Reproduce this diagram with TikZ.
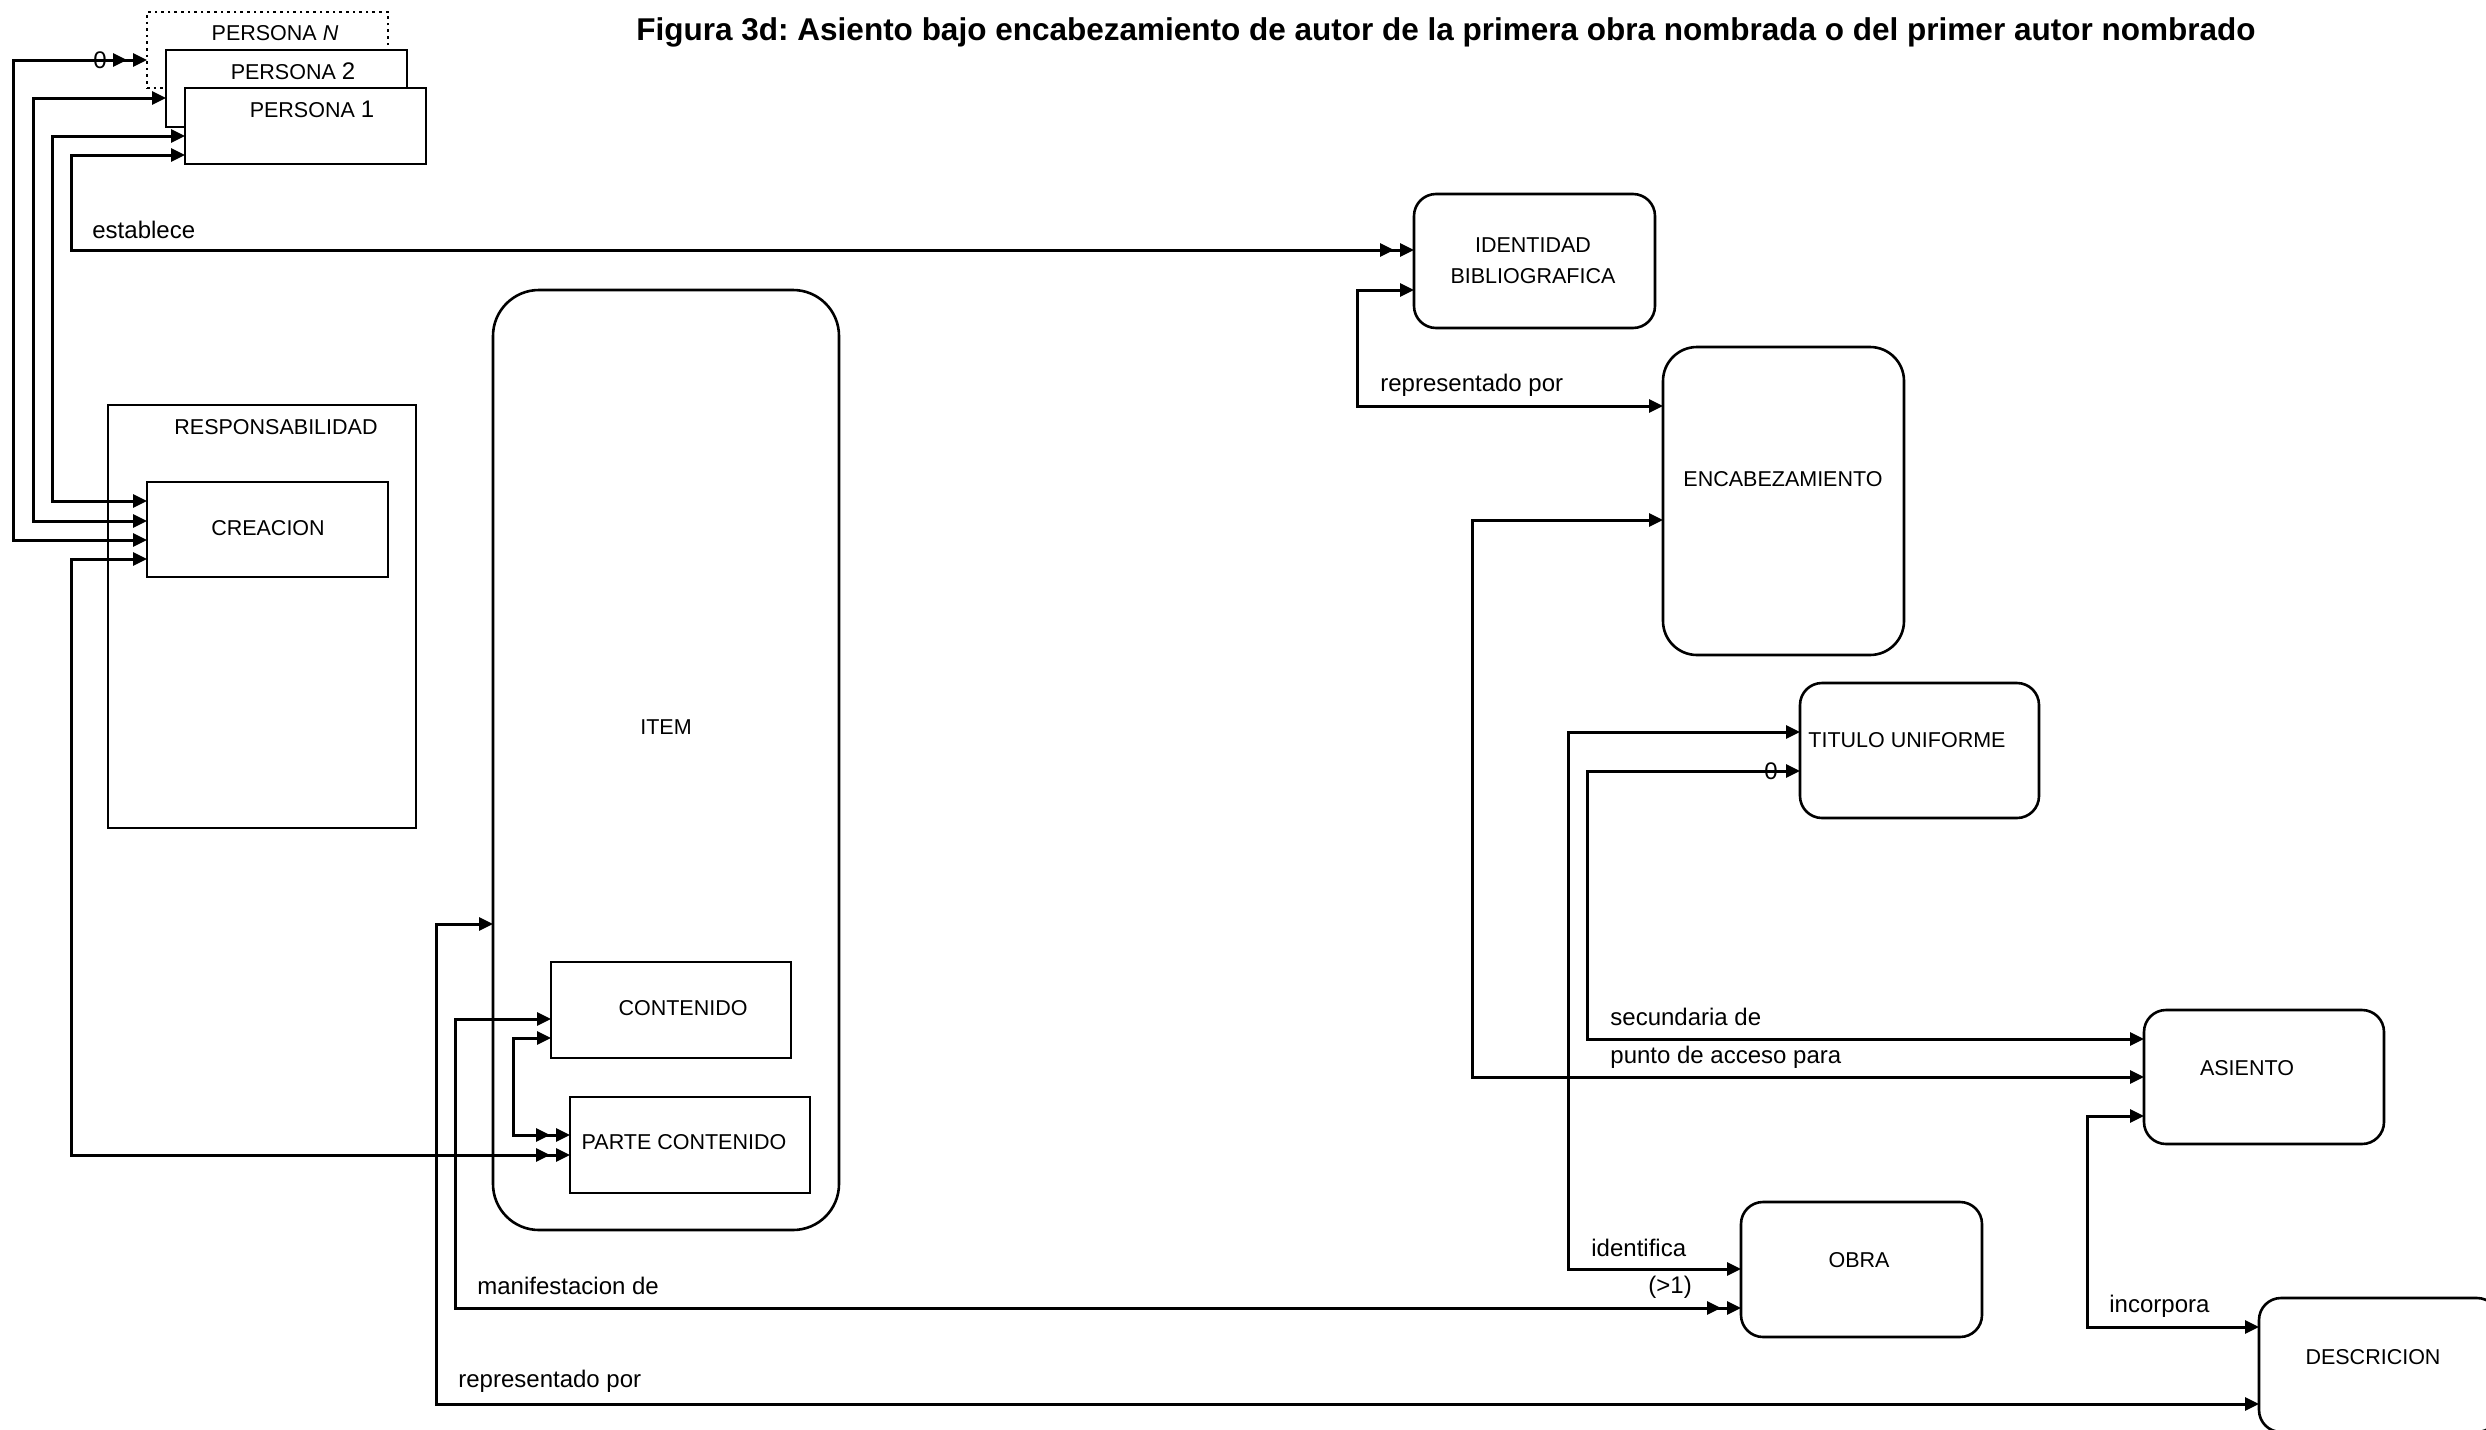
\documentclass[tikz,border=0pt]{standalone}
\usepackage{fontspec}
\setmainfont{Liberation Sans}
\usetikzlibrary{arrows.meta,decorations.markings}
\frenchspacing
% entity box given by its left, top, right and bottom edges
\newcommand\entbox[6]{%
  \node[#1, minimum width={(#5-#3)*0.5pt}, minimum height={(#6-#4)*0.5pt}]
    (#2) at ({(#3+#5)/2},{(#4+#6)/2}) {};}
\newcommand\bignum[1]{{\fontsize{12pt}{14pt}\selectfont #1}}
\begin{document}
\begin{tikzpicture}[x=0.5pt,y=-0.5pt,
  box/.style={draw, line width=1.3pt, fill=white, inner sep=0pt, outer sep=0pt},
  rbox/.style={box, rounded corners=#1},
  rbox/.default=11pt,
  boxtext/.style={font=\fontsize{10.75pt}{15.5pt}\selectfont, inner sep=0pt, align=center},
  reltext/.style={font=\fontsize{12pt}{14pt}\selectfont, inner sep=0pt, anchor=west},
  conn/.style={line width=1.5pt, >={Triangle[length=7pt,width=6.5pt]}, <->},
  dbl/.style={postaction={decorate, decoration={markings,
      mark=at position -10pt with {\arrow{>}}}}},
]
\path[use as bounding box, clip] (0,0) rectangle (2486,1430);

% title
\node[font=\fontsize{15.75pt}{18pt}\selectfont\bfseries, inner sep=0pt] (title) at (1446,32)
  {Figura 3d: Asiento bajo encabezamiento de autor de la primera obra nombrada o del primer autor nombrado};

% persons (stacked)
\entbox{box, dotted}{persN}{147}{12}{388}{88}
\entbox{box}{pers2}{166}{50}{407}{127}
\entbox{box}{pers1}{185}{88}{426}{164}
\node[boxtext] (persNt) at (275,33) {PERSONA \textit{N}};
\node[boxtext] (pers2t) at (293,71) {PERSONA \bignum{2}};
\node[boxtext] (pers1t) at (312,109) {PERSONA \bignum{1}};

% responsibility / creation
\entbox{box}{resp}{108}{405}{416}{828}
\entbox{box}{creacion}{147}{482}{388}{577}
\node[boxtext] (respt) at (276,427) {RESPONSABILIDAD};
\node[boxtext] (creaciont) at (268,528) {CREACION};

% item with its contents
\entbox{rbox=23pt}{item}{493}{290}{839}{1230}
\entbox{box}{contenido}{551}{962}{791}{1058}
\entbox{box}{parte}{570}{1097}{810}{1193}
\node[boxtext] (itemt) at (666,727) {ITEM};
\node[boxtext] (contenidot) at (683,1008) {CONTENIDO};
\node[boxtext] (partet) at (684,1142) {PARTE CONTENIDO};

% right-hand entities
\entbox{rbox}{ident}{1414}{194}{1655}{328}
\entbox{rbox=17pt}{encab}{1663}{347}{1904}{655}
\entbox{rbox}{titulo}{1800}{683}{2039}{818}
\entbox{rbox}{asiento}{2144}{1010}{2384}{1144}
\entbox{rbox}{obra}{1741}{1202}{1982}{1337}
\entbox{rbox}{descr}{2259}{1298}{2499}{1432}
\node[boxtext] (identt) at (1533,261) {IDENTIDAD\\BIBLIOGRAFICA};
\node[boxtext] (encabt) at (1783,479) {ENCABEZAMIENTO};
\node[boxtext] (titulot) at (1907,740) {TITULO UNIFORME};
\node[boxtext] (asientot) at (2247,1068) {ASIENTO};
\node[boxtext] (obrat) at (1859,1260) {OBRA};
\node[boxtext] (descrt) at (2373,1357) {DESCRICION};

% connectors on the left
\draw[conn,dbl] (creacion.west |- 0,540) -| (13,60) -- (persN.west |- 0,60);
\node[reltext, anchor=center] (zeroA) at (100,60) {0};
\draw[conn] (creacion.west |- 0,521) -| (33,98) -- (pers2.west |- 0,98);
\draw[conn] (creacion.west |- 0,501) -| (52,136) -- (pers1.west |- 0,136);
\draw[conn,dbl] (pers1.west |- 0,155) -| (71,250) -- (ident.west |- 0,250);
\node[reltext] (establece) at (92,230) {establece};
\draw[conn,dbl] (creacion.west |- 0,559) -| (71,1155) -- (parte.west |- 0,1155);

% connectors from the item
\draw[conn] (item.west |- 0,924) -| (436,1404) -- (descr.west |- 0,1404);
\node[reltext] (reprB) at (458,1381) {representado por};
\draw[conn,dbl] (contenido.west |- 0,1019) -| (455,1308) -- (obra.west |- 0,1308);
\node[reltext] (manif) at (477,1286) {manifestacion de};
\node[reltext] (mult) at (1648,1287) {(>1)};
\draw[conn,dbl] (contenido.west |- 0,1038) -| (513,1135) -- (parte.west |- 0,1135);

% connectors on the right
\draw[conn] (ident.west |- 0,290) -| (1357,406) -- (encab.west |- 0,406);
\node[reltext] (reprA) at (1380,385) {representado por};
\draw[conn] (encab.west |- 0,520) -| (1472,1077) -- (asiento.west |- 0,1077);
\node[reltext] (punto) at (1610,1057) {punto de acceso para};
\draw[conn] (titulo.west |- 0,732) -| (1568,1269) -- (obra.west |- 0,1269);
\node[reltext] (identifica) at (1591,1248) {identifica};
\draw[conn] (titulo.west |- 0,771) -| (1587,1039) -- (asiento.west |- 0,1039);
\node[reltext, anchor=center] (zeroB) at (1771,771) {0};
\node[reltext] (secund) at (1610,1017) {secundaria de};
\draw[conn] (asiento.west |- 0,1116) -| (2087,1327) -- (descr.west |- 0,1327);
\node[reltext] (incorpora) at (2109,1306) {incorpora};
\end{tikzpicture}
\end{document}
